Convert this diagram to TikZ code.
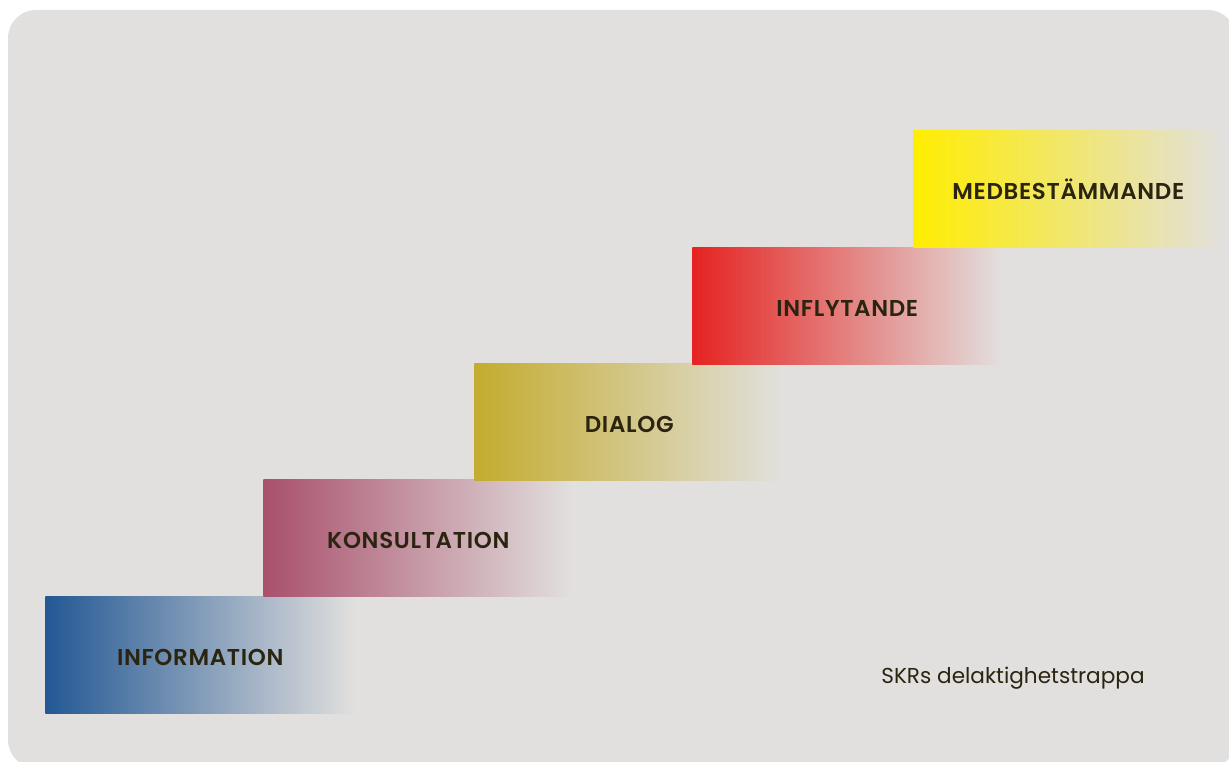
\documentclass[tikz,border=0pt]{standalone}
\usepackage{fontspec}
\setmainfont{Poppins}
\newfontfamily\stepfont{Poppins SemiBold}[LetterSpace=3]

\definecolor{panel}{HTML}{E2E0DE}
\definecolor{ink}{HTML}{2A2410}
\definecolor{infoblue}{HTML}{235894}
\definecolor{konsrose}{HTML}{A9506D}
\definecolor{dialogolive}{HTML}{C4AC2E}
\definecolor{inflred}{HTML}{E52321}
\definecolor{medyellow}{HTML}{FFED00}

\begin{document}
\begin{tikzpicture}[x=0.75pt,y=-0.75pt,
    stepbox/.style={anchor=north west,inner sep=0pt,minimum width=232.5pt,
      minimum height=87.75pt,right color=panel,text=ink,
      text depth=0pt,text height=16pt,
      font=\stepfont\fontsize{17.2}{20}\selectfont}]
    % panel
    \clip (0,0) rectangle (1229,762);
    \fill[panel,rounded corners=21pt] (8,10) rectangle (1236,768);

    % steps
    \node[stepbox,left color=infoblue] (information) at (45,596) {INFORMATION};
    \node[stepbox,left color=konsrose] (konsultation) at (263,479) {KONSULTATION};
    \node[stepbox,left color=dialogolive] (dialog) at (474,363) {DIALOG};
    \node[stepbox,left color=inflred] (inflytande) at (692,247) {INFLYTANDE};
    \node[stepbox,left color=medyellow] (medbest) at (913,130) {MEDBESTÄMMANDE};

    \node[text=ink,font=\fontsize{16.2}{19}\selectfont] (caption) at (1013,678)
      {SKRs delaktighetstrappa};
\end{tikzpicture}
\end{document}
